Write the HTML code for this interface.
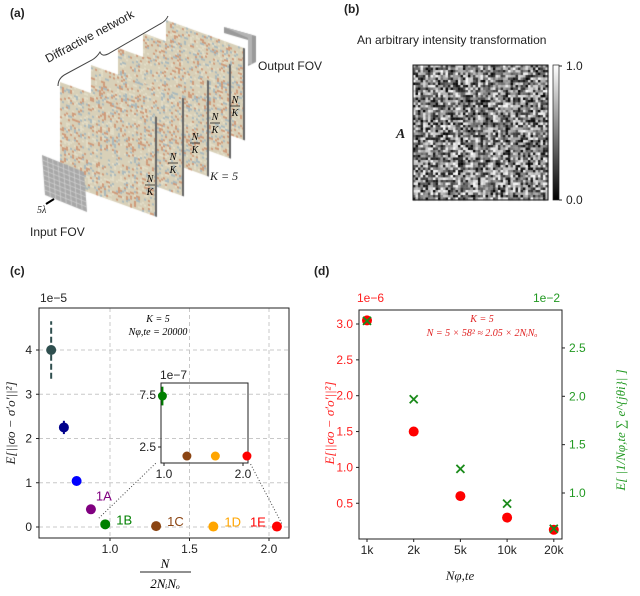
<!DOCTYPE html>
<html><head><meta charset="utf-8"><style>
html,body{margin:0;padding:0;background:#fff;}
#wrap{position:relative;width:640px;height:596px;overflow:hidden;font-family:"Liberation Sans",sans-serif;}
canvas,svg{position:absolute;left:0;top:0;}
.t{font-family:"Liberation Sans",sans-serif;font-size:12px;fill:#222;}
.m{font-family:"Liberation Serif",serif;font-style:italic;}
</style></head><body>
<div id="wrap">
<canvas id="cv" width="640" height="596"></canvas>
<svg id="sv" width="640" height="596" viewBox="0 0 640 596">
<g>
<text x="10" y="17" class="t" font-weight="bold" font-size="13">(a)</text>
<path d="M58,86 q0,-8 8,-12 L92,60 q5,-3 8,-8 q2,5 8,2 L160,24 q6,-3 8,-8" fill="none" stroke="#444" stroke-width="1"/>
<text x="0" y="0" class="t" font-size="14" transform="translate(48,63) rotate(-28)">Diffractive network</text>
<text x="258" y="70" class="t" font-size="13">Output FOV</text>
<text x="30" y="236" class="t" font-size="13">Input FOV</text>
<text x="37" y="213" class="m" font-size="10" fill="#222">5λ</text>
<line x1="46" y1="204" x2="54" y2="199" stroke="#000" stroke-width="2"/>
<text x="210" y="180" class="m" font-size="12" fill="#222">K = 5</text>
<g id="nk"></g>
</g>
<g>
<text x="344" y="13" class="t" font-weight="bold" font-size="13">(b)</text>
<text x="357" y="44" class="t" font-size="13">An arbitrary intensity transformation</text>
<text x="396" y="138" class="m" font-size="14" font-weight="bold" fill="#222">A</text>
<rect x="413" y="65" width="135" height="135" fill="none" stroke="#222"/>
<defs><linearGradient id="gb" x1="0" y1="1" x2="0" y2="0"><stop offset="0" stop-color="#000"/><stop offset="1" stop-color="#fff"/></linearGradient></defs>
<rect x="553" y="65" width="6" height="135" fill="url(#gb)" stroke="#222" stroke-width="0.7"/>
<line x1="559" y1="66" x2="562" y2="66" stroke="#222"/><line x1="559" y1="200" x2="562" y2="200" stroke="#222"/>
<text x="566" y="70" class="t" font-size="12">1.0</text>
<text x="566" y="204" class="t" font-size="12">0.0</text>
</g>
<g id="pc">
<text x="10" y="275" class="t" font-weight="bold" font-size="13">(c)</text>
</g>
<g id="pd">
<text x="314" y="275" class="t" font-weight="bold" font-size="13">(d)</text>
</g>
</svg>
</div>
<script>
// ---------- chart data ----------
// panel c
const cX = [0.63, 0.71, 0.79, 0.88, 0.97, 1.29, 1.65, 2.05];
const cY = [4.0, 2.25, 1.04, 0.40, 0.06, 0.02, 0.01, 0.01];
const cErr = [0.65, 0.15, 0, 0, 0, 0, 0, 0];
const cColors = ["#2f4f4f","#00008b","#0000ff","#800080","#008000","#8b4513","#ffa500","#ff0000"];
const cLabels = ["","","","1A","1B","1C","1D","1E"];
const cXTicks = [1.0, 1.5, 2.0];
const cYTicks = [0, 1, 2, 3, 4];
// inset (x1e-7)
const iX = [0.98, 1.29, 1.65, 2.05];
const iY = [7.4, 1.63, 1.63, 1.63];
const iErr = [0.9, 0, 0, 0];
const iColors = ["#008000","#8b4513","#ffa500","#ff0000"];
const iYTicks = [2.5, 7.5];
const iXTicks = [1.0, 2.0];
// panel d
const dCats = ["1k","2k","5k","10k","20k"];
const dRed = [3.05, 1.5, 0.6, 0.3, 0.13];
const dGreen = [2.78, 1.97, 1.25, 0.89, 0.63];
const dLeftTicks = [0.5, 1.0, 1.5, 2.0, 2.5, 3.0];
const dRightTicks = [1.0, 1.5, 2.0, 2.5];

const NS = "http://www.w3.org/2000/svg";
function mk(tag, attrs, parent, txt){const e=document.createElementNS(NS,tag);for(const k in attrs)e.setAttribute(k,attrs[k]);if(txt!==undefined)e.textContent=txt;parent.appendChild(e);return e;}

// ---------- panel c ----------
const pc = document.getElementById('pc');
const cx = v => 110 + (v-1.0)*159;
const cy = v => 527 - v*44.25;
for (const t of cXTicks){ mk('line',{x1:cx(t),x2:cx(t),y1:308,y2:538,stroke:'#c8c8c8','stroke-dasharray':'4,3'},pc);
  mk('line',{x1:cx(t),x2:cx(t),y1:538,y2:541,stroke:'#222'},pc);
  const l=mk('text',{x:cx(t),y:553,'text-anchor':'middle',class:'t','font-size':12},pc,t.toFixed(1));
   }
for (const t of cYTicks){ mk('line',{x1:39,x2:289,y1:cy(t),y2:cy(t),stroke:'#c8c8c8','stroke-dasharray':'4,3'},pc);
  mk('line',{x1:36,x2:39,y1:cy(t),y2:cy(t),stroke:'#222'},pc);
  const l=mk('text',{x:32,y:cy(t)+4,'text-anchor':'end',class:'t','font-size':12},pc,String(t));
   }
const cf=mk('rect',{x:39,y:308,width:250,height:230,fill:'none',stroke:'#222'},pc);
 
mk('text',{x:40,y:302,class:'t','font-size':12},pc,'1e\u22125');
mk('text',{x:158,y:322,'text-anchor':'middle',class:'m','font-size':10},pc,'K = 5');
mk('text',{x:158,y:335,'text-anchor':'middle',class:'m','font-size':10},pc,'N\u03c6,te = 20000');
const cyt=mk('text',{transform:'translate(15,423) rotate(-90)','text-anchor':'middle',class:'m','font-size':13,fill:'#222'},pc,'E[||\u03c3o \u2212 \u03c3\u2032o\u2032||\u00b2]');
 
const cxt=mk('g',{},pc);  
mk('text',{x:165,y:568,'text-anchor':'middle',class:'m','font-size':13},cxt,'N');
mk('line',{x1:140,x2:191,y1:572,y2:572,stroke:'#222'},cxt);
mk('text',{x:165,y:588,'text-anchor':'middle',class:'m','font-size':13},cxt,'2NᵢNₒ');
mk('line',{x1:cx(0.93),y1:cy(0.2),x2:156,y2:463,stroke:'#444','stroke-dasharray':'1,2'},pc);
mk('line',{x1:cx(2.08),y1:cy(0.08),x2:250,y2:463,stroke:'#444','stroke-dasharray':'1,2'},pc);
cX.forEach((x,i)=>{
  if(cErr[i]>0){const e=mk('line',{x1:cx(x),x2:cx(x),y1:cy(cY[i]-cErr[i]),y2:cy(cY[i]+cErr[i]),stroke:cColors[i],'stroke-width':2,'stroke-dasharray':i==0?'6,3':'none'},pc);
     }
  const p=mk('circle',{cx:cx(x),cy:cy(cY[i]),r:5,fill:cColors[i]},pc);
   
  if(cLabels[i]){const l=mk('text',{x:cx(x)+(i==7?-27:i==3?5:11),y:cy(cY[i])+(i==3?-9:0),fill:cColors[i],'font-size':13,'font-family':'Liberation Sans, sans-serif'},pc,cLabels[i]);
     }
});
const ix = v => 164 + (v-1.0)*79;
const iy = v => 447 - (v-2.5)*10.4;
const ib=mk('rect',{x:161,y:383,width:87,height:80,fill:'none',stroke:'#222'},pc);
 
mk('text',{x:160,y:379,class:'t','font-size':12},pc,'1e\u22127');
for(const t of iYTicks){mk('line',{x1:158,x2:161,y1:iy(t),y2:iy(t),stroke:'#222'},pc);
  mk('text',{x:156,y:iy(t)+4,'text-anchor':'end',class:'t','font-size':12},pc,t.toFixed(1));}
for(const t of iXTicks){mk('line',{x1:ix(t),x2:ix(t),y1:463,y2:466,stroke:'#222'},pc);
  mk('text',{x:ix(t),y:478,'text-anchor':'middle',class:'t','font-size':12},pc,t.toFixed(1));}
iX.forEach((x,i)=>{
  if(iErr[i]>0){mk('line',{x1:ix(x),x2:ix(x),y1:iy(iY[i]-iErr[i]),y2:iy(iY[i]+iErr[i]),stroke:iColors[i],'stroke-width':2},pc);}
  const p=mk('circle',{cx:ix(x),cy:iy(iY[i]),r:4.5,fill:iColors[i]},pc);
   
});

// ---------- panel d ----------
const pd = document.getElementById('pd');
const dx = i => 367 + i*46.7;
const dyL = v => 324 - (v-3.0)*71.7;
const dyR = v => 493 - (v-1.0)*96.7;
const df=mk('rect',{x:359,y:310,width:203,height:229,fill:'none',stroke:'#222'},pd);
 
mk('text',{x:357,y:302,'font-size':12,fill:'#ff2020','font-family':'Liberation Sans, sans-serif'},pd,'1e\u22126');
mk('text',{x:560,y:302,'font-size':12,fill:'#229922','text-anchor':'end','font-family':'Liberation Sans, sans-serif'},pd,'1e\u22122');
dCats.forEach((c,i)=>{mk('line',{x1:dx(i),x2:dx(i),y1:539,y2:542,stroke:'#222'},pd);
  const l=mk('text',{x:dx(i),y:554,'text-anchor':'middle',class:'t','font-size':12},pd,c);
   });
for(const t of dLeftTicks){mk('line',{x1:356,x2:359,y1:dyL(t),y2:dyL(t),stroke:'#222'},pd);
  const l=mk('text',{x:353,y:dyL(t)+4,'text-anchor':'end','font-size':12,fill:'#ff2020','font-family':'Liberation Sans, sans-serif'},pd,t.toFixed(1));
   }
for(const t of dRightTicks){mk('line',{x1:562,x2:565,y1:dyR(t),y2:dyR(t),stroke:'#222'},pd);
  const l=mk('text',{x:569,y:dyR(t)+4,'font-size':12,fill:'#229922','font-family':'Liberation Sans, sans-serif'},pd,t.toFixed(1));
   }
mk('text',{x:482,y:322,'text-anchor':'middle',class:'m','font-size':10,fill:'#e02020'},pd,'K = 5');
mk('text',{x:482,y:336,'text-anchor':'middle',class:'m','font-size':10,fill:'#e02020'},pd,'N = 5 × 58² ≈ 2.05 × 2NᵢNₒ');
const dxt=mk('text',{x:460,y:580,'text-anchor':'middle',class:'m','font-size':13,fill:'#222'},pd,'N\u03c6,te');
 
const dyt=mk('text',{transform:'translate(334,423) rotate(-90)','text-anchor':'middle',class:'m','font-size':13,fill:'#ff2020'},pd,'E[||\u03c3o \u2212 \u03c3\u2032o\u2032||\u00b2]');
 
const dyr=mk('text',{transform:'translate(625,430) rotate(-90)','text-anchor':'middle',class:'m','font-size':13,fill:'#229922'},pd,'E[ |1/N\u03c6,te \u2211 e^{j\u03b8i}| ]');
 
dRed.forEach((v,i)=>{const p=mk('circle',{cx:dx(i),cy:dyL(v),r:5,fill:'#ff0000'},pd);
   });
dGreen.forEach((v,i)=>{const g=mk('path',{d:`M${dx(i)-4},${dyR(v)-4}L${dx(i)+4},${dyR(v)+4}M${dx(i)+4},${dyR(v)-4}L${dx(i)-4},${dyR(v)+4}`,stroke:'#1a8a1a','stroke-width':1.8},pd);
   });

// ---------- N/K labels panel a ----------
const nk=document.getElementById('nk');
[[150,182],[173,160],[195,140],[215,120],[235,103]].forEach(p=>{
  mk('text',{x:p[0],y:p[1],'text-anchor':'middle',class:'m','font-size':10},nk,'N');
  mk('line',{x1:p[0]-5,x2:p[0]+5,y1:p[1]+3,y2:p[1]+3,stroke:'#222','stroke-width':0.8},nk);
  mk('text',{x:p[0],y:p[1]+13,'text-anchor':'middle',class:'m','font-size':10},nk,'K');
});

// ---------- textures (decorative) ----------
const ctx=document.getElementById('cv').getContext('2d');
let s=12345; const rnd=()=>{s=(s*1103515245+12345)&0x7fffffff;return s/0x7fffffff;};
const n=54, cs=135/n;
for(let i=0;i<n;i++)for(let j=0;j<n;j++){const g=Math.floor(rnd()*255);ctx.fillStyle=`rgb(${g},${g},${g})`;ctx.fillRect(413+j*cs,65+i*cs,cs+0.3,cs+0.3);}
ctx.fillStyle='#9a9a9a';ctx.beginPath();ctx.moveTo(224,27);ctx.lineTo(256,36);ctx.lineTo(256,62);ctx.lineTo(248,66);ctx.lineTo(248,40);ctx.lineTo(224,33);ctx.fill();
ctx.fillStyle='#b4b4b4';ctx.beginPath();ctx.moveTo(224,27);ctx.lineTo(252,35);ctx.lineTo(252,64);ctx.lineTo(248,64);ctx.lineTo(248,38);ctx.closePath();ctx.fill();
const L=[[166,20,77],[143,33,86],[118,48,89],[91,65,91],[60,82,95]];
const H=[92,94,96,98,100];
L.forEach((l,k)=>{const [x0,y0,w]=l,h=H[k];const sk=0.36;
  ctx.save();ctx.setTransform(1,sk,0,1,x0,y0);
  ctx.fillStyle='#d8d0b8';ctx.fillRect(0,0,w,h);
  const c=2;for(let i=0;i<w;i+=c)for(let j=0;j<h;j+=c){const r=rnd();
    if(r<0.13)ctx.fillStyle='rgba(200,110,70,0.55)';else if(r<0.25)ctx.fillStyle='rgba(130,165,195,0.55)';else if(r<0.4)ctx.fillStyle='rgba(232,226,205,0.7)';else continue;ctx.fillRect(i,j,c,c);}
  ctx.fillStyle='#666';ctx.fillRect(w,0,2,h);
  ctx.restore();});
ctx.fillStyle='#a8a8a8';ctx.beginPath();ctx.moveTo(42,155);ctx.lineTo(84,172);ctx.lineTo(87,212);ctx.lineTo(45,195);ctx.fill();
ctx.strokeStyle='#d4d4d4';ctx.lineWidth=0.7;
for(let i=1;i<8;i++){ctx.beginPath();ctx.moveTo(42+i*5.3,155+i*2.1);ctx.lineTo(45+i*5.3,195+i*2.1);ctx.stroke();
  ctx.beginPath();ctx.moveTo(42+i*0.4,155+i*5);ctx.lineTo(84+i*0.4,172+i*5);ctx.stroke();}
</script>
</body></html>
